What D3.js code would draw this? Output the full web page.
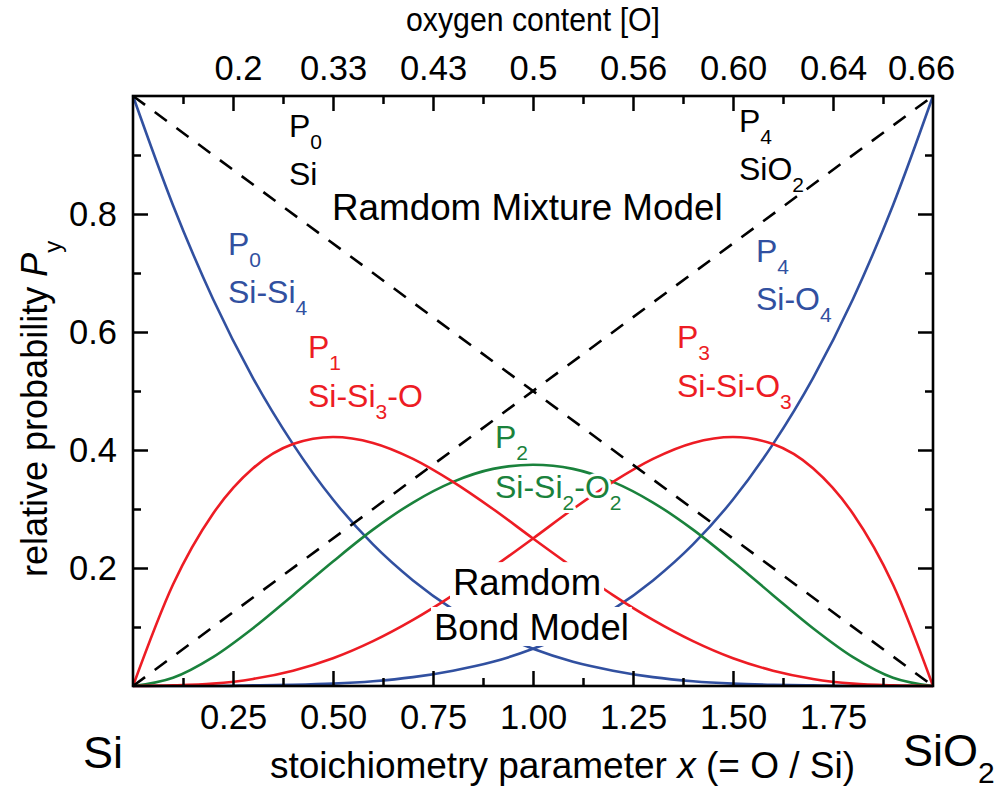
<!DOCTYPE html>
<html>
<head>
<meta charset="utf-8">
<script src="https://cdn.jsdelivr.net/npm/d3@7"></script>
<style>
    body { margin: 0; background: #fff; }
    svg { display: block; font-family: "Liberation Sans", Arial, sans-serif; }
</style>
</head>
<body>
<svg id="chart" width="1000" height="789"></svg>
<script>
'use strict';

// stoichiometry parameter x
const xValues = [0, 0.1, 0.2, 0.3, 0.4, 0.5, 0.6, 0.7, 0.8, 0.9, 1.0,
    1.1, 1.2, 1.3, 1.4, 1.5, 1.6, 1.7, 1.8, 1.9, 2.0];

// random bond model
const p0SiSi4 = [1.000, 0.815, 0.656, 0.522, 0.410, 0.316, 0.240, 0.179, 0.130, 0.092, 0.063,
    0.041, 0.026, 0.015, 0.008, 0.004, 0.002, 0.001, 0.000, 0.000, 0.000];
const p1SiSi3O = [0.000, 0.172, 0.292, 0.369, 0.410, 0.422, 0.412, 0.385, 0.346, 0.300, 0.250,
    0.201, 0.154, 0.112, 0.076, 0.047, 0.026, 0.012, 0.004, 0.001, 0.000];
const p2SiSi2O2 = [0.000, 0.014, 0.049, 0.098, 0.154, 0.211, 0.265, 0.311, 0.346, 0.368, 0.375,
    0.368, 0.346, 0.311, 0.265, 0.211, 0.154, 0.098, 0.049, 0.014, 0.000];
const p3SiSiO3 = [0.000, 0.001, 0.004, 0.012, 0.026, 0.047, 0.076, 0.112, 0.154, 0.201, 0.250,
    0.300, 0.346, 0.385, 0.412, 0.422, 0.410, 0.369, 0.292, 0.172, 0.000];
const p4SiO4 = [0.000, 0.000, 0.000, 0.001, 0.002, 0.004, 0.008, 0.015, 0.026, 0.041, 0.063,
    0.092, 0.130, 0.179, 0.240, 0.316, 0.410, 0.522, 0.656, 0.815, 1.000];

// random mixture model
const mixX = [0, 2];
const mixSi = [1, 0];
const mixSiO2 = [0, 1];

// ticks
const xMajorTicks = [0.25, 0.5, 0.75, 1.0, 1.25, 1.5, 1.75];
const xMinorTicks = [0.125, 0.375, 0.625, 0.875, 1.125, 1.375, 1.625, 1.875];
const xTickLabels = ['0.25', '0.50', '0.75', '1.00', '1.25', '1.50', '1.75'];
const topTicks = [0.25, 0.5, 0.75, 1.0, 1.25, 1.5, 1.75, 2.0];
const topTickLabels = ['0.2', '0.33', '0.43', '0.5', '0.56', '0.60', '0.64', '0.66'];
const yMajorTicks = [0.2, 0.4, 0.6, 0.8];
const yMinorTicks = [0.1, 0.3, 0.5, 0.7, 0.9];
const yTickLabels = ['0.2', '0.4', '0.6', '0.8'];

const BLUE = '#3150a0';
const RED = '#ed1c24';
const GREEN = '#1a823c';

(function() {
    const d3 = window.d3;
    const svg = d3.select('#chart');
    const left = 133, right = 933, top = 96, bottom = 686;

    const x = d3.scaleLinear().domain([0, 2]).range([left, right]);
    const y = d3.scaleLinear().domain([0, 1]).range([bottom, top]);

    // Curves
    const line = d3.line()
        .x(d => x(d[0]))
        .y(d => y(d[1]))
        .curve(d3.curveMonotoneX);

    const series = [
        {vals: p0SiSi4, color: BLUE},
        {vals: p4SiO4, color: BLUE},
        {vals: p2SiSi2O2, color: GREEN},
        {vals: p1SiSi3O, color: RED},
        {vals: p3SiSiO3, color: RED}
    ];

    svg.append('g').selectAll('path')
        .data(series)
        .enter()
        .append('path')
        .attr('fill', 'none')
        .attr('stroke', d => d.color)
        .attr('stroke-width', 2.6)
        .attr('d', d => line(xValues.map((v, i) => [v, d.vals[i]])));

    const straight = d3.line().x(d => x(d[0])).y(d => y(d[1]));
    svg.append('g').selectAll('path')
        .data([mixSi, mixSiO2])
        .enter()
        .append('path')
        .attr('fill', 'none')
        .attr('stroke', '#000')
        .attr('stroke-width', 2.6)
        .attr('stroke-dasharray', '15,12')
        .attr('d', d => straight(mixX.map((v, i) => [v, d[i]])));

    // Axes
    function styleAxis(g) {
        g.select('.domain').remove();
        g.selectAll('.tick line').attr('stroke', '#000').attr('stroke-width', 2.5);
        g.selectAll('.tick text')
            .attr('fill', '#000')
            .style('font-size', '34.5px')
            .style('font-family', '"Liberation Sans", Arial, sans-serif');
    }

    svg.append('g')
        .attr('transform', 'translate(0,' + bottom + ')')
        .call(d3.axisBottom(x).tickValues(xMajorTicks).tickSize(-15).tickPadding(19)
            .tickFormat((d, i) => xTickLabels[i]))
        .call(styleAxis);
    svg.append('g')
        .attr('transform', 'translate(0,' + bottom + ')')
        .call(d3.axisBottom(x).tickValues(xMinorTicks).tickSize(-8).tickFormat(''))
        .call(styleAxis);

    const topAxis = svg.append('g')
        .attr('transform', 'translate(0,' + top + ')')
        .call(d3.axisTop(x).tickValues(topTicks).tickSize(-15).tickPadding(16)
            .tickFormat((d, i) => topTickLabels[i]))
        .call(styleAxis);
    topAxis.selectAll('.tick line').filter(d => d === 2).remove();
    topAxis.selectAll('.tick text').attr('dx', d => d === 2 ? -12 : (d === 0.25 ? 5 : 0));
    svg.append('g')
        .attr('transform', 'translate(0,' + top + ')')
        .call(d3.axisTop(x).tickValues(xMinorTicks).tickSize(-8).tickFormat(''))
        .call(styleAxis);

    svg.append('g')
        .attr('transform', 'translate(' + left + ',0)')
        .call(d3.axisLeft(y).tickValues(yMajorTicks).tickSize(-15).tickPadding(16)
            .tickFormat((d, i) => yTickLabels[i]))
        .call(styleAxis);
    svg.append('g')
        .attr('transform', 'translate(' + left + ',0)')
        .call(d3.axisLeft(y).tickValues(yMinorTicks).tickSize(-8).tickFormat(''))
        .call(styleAxis);
    svg.append('g')
        .attr('transform', 'translate(' + right + ',0)')
        .call(d3.axisRight(y).tickValues(yMajorTicks).tickSize(-15).tickFormat(''))
        .call(styleAxis);
    svg.append('g')
        .attr('transform', 'translate(' + right + ',0)')
        .call(d3.axisRight(y).tickValues(yMinorTicks).tickSize(-8).tickFormat(''))
        .call(styleAxis);

    svg.append('rect')
        .attr('x', left)
        .attr('y', top)
        .attr('width', right - left)
        .attr('height', bottom - top)
        .attr('fill', 'none')
        .attr('stroke', '#000')
        .attr('stroke-width', 2.6);

    // Text with subscripts: parts = [[text, isSub, isItalic], ...]
    function addText(px, py, parts, size, color, opts) {
        opts = opts || {};
        const subSize = Math.round(size * 0.66);
        const shift = Math.round(size * 0.38);
        const t = svg.append('text')
            .attr('x', px)
            .attr('y', py)
            .attr('fill', color)
            .style('font-size', size + 'px');
        if (opts.anchor) t.attr('text-anchor', opts.anchor);
        if (opts.transform) t.attr('transform', opts.transform);
        let down = false;
        parts.forEach(p => {
            const ts = t.append('tspan').text(p[0]);
            if (p[2]) ts.style('font-style', 'italic');
            if (p[1] && !down) {
                ts.attr('dy', shift).style('font-size', subSize + 'px');
                down = true;
            } else if (p[1]) {
                ts.style('font-size', subSize + 'px');
            } else if (down) {
                ts.attr('dy', -shift);
                down = false;
            }
        });
        if (opts.halo) {
            t.attr('stroke', '#fff').attr('stroke-width', opts.halo)
                .attr('stroke-linejoin', 'round').style('paint-order', 'stroke');
        }
        return t;
    }

    // Axis titles
    svg.append('text')
        .attr('x', 533)
        .attr('y', 31)
        .attr('text-anchor', 'middle')
        .attr('textLength', 254)
        .attr('lengthAdjust', 'spacingAndGlyphs')
        .style('font-size', '34px')
        .text('oxygen content [O]');
    addText(270, 778, [['stoichiometry parameter '], ['x', false, true], [' (= O / Si)']], 37, '#000');
    addText(0, 0, [['relative probability '], ['P', false, true], ['y', true]], 36, '#000',
        {transform: 'translate(47,577) rotate(-90)'});
    addText(83, 768, [['Si']], 45, '#000');
    addText(903, 766, [['SiO'], ['2', true]], 45, '#000');

    // Annotations (positions in data units)
    const lab = 32;
    addText(x(0.39), y(0.931), [['P'], ['0', true]], lab, '#000');
    addText(x(0.39), y(0.849), [['Si']], lab, '#000');
    addText(x(0.4975), y(0.790), [['Ramdom Mixture Model']], 36.8, '#000');
    addText(x(1.515), y(0.939), [['P'], ['4', true]], lab, '#000');
    addText(x(1.515), y(0.858), [['SiO'], ['2', true]], lab, '#000');

    addText(x(0.2375), y(0.731), [['P'], ['0', true]], lab, BLUE);
    addText(x(0.2375), y(0.649), [['Si-Si'], ['4', true]], lab, BLUE);
    addText(x(0.4375), y(0.556), [['P'], ['1', true]], lab, RED);
    addText(x(0.4375), y(0.473), [['Si-Si'], ['3', true], ['-O']], lab, RED);
    addText(x(1.5575), y(0.719), [['P'], ['4', true]], lab, BLUE);
    addText(x(1.5575), y(0.637), [['Si-O'], ['4', true]], lab, BLUE);
    addText(x(1.36), y(0.573), [['P'], ['3', true]], lab, RED);
    addText(x(1.36), y(0.490), [['Si-Si-O'], ['3', true]], lab, RED);
    addText(x(0.905), y(0.403), [['P'], ['2', true]], lab, GREEN, {halo: 5});
    addText(x(0.905), y(0.319), [['Si-Si'], ['2', true], ['-O'], ['2', true]], lab, GREEN, {halo: 6});

    // Random bond model label on white boxes
    const bondG = svg.append('g');
    const r1 = addText(x(0.80), y(0.154), [['Ramdom']], 36.5, '#000');
    const r2 = addText(x(0.7525), y(0.078), [['Bond Model']], 36.5, '#000');
    [r1, r2].forEach(t => {
        const b = t.node().getBBox();
        bondG.append('rect')
            .attr('x', b.x - 3)
            .attr('y', b.y)
            .attr('width', b.width + 6)
            .attr('height', b.height - 2)
            .attr('fill', '#fff');
    });
    bondG.raise();
    r1.raise();
    r2.raise();
}());
</script>
</body>
</html>
